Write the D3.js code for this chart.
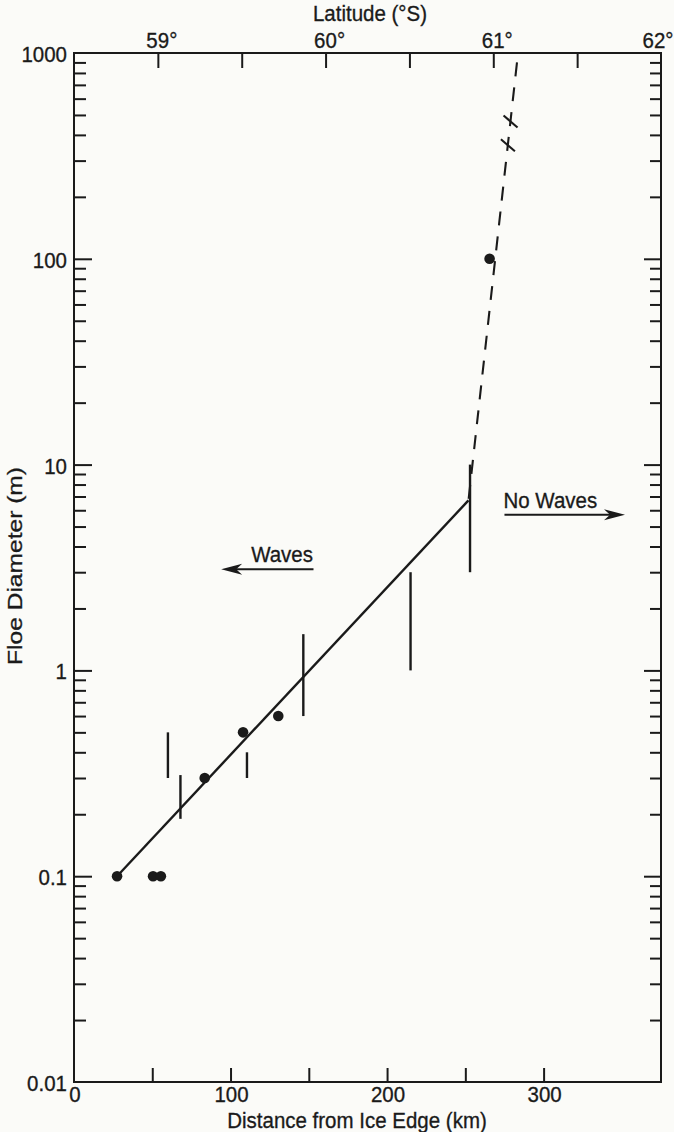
<!DOCTYPE html>
<html>
<head>
<meta charset="utf-8">
<script src="https://cdn.jsdelivr.net/npm/d3@7"></script>
<style>
  html, body { margin: 0; padding: 0; background: #fbfbf8; }
  svg { display: block; }
  text { font-family: "Liberation Sans", Arial, Helvetica, sans-serif; fill: #1a1a1a; stroke: #1a1a1a; stroke-width: 0.3px; }
</style>
</head>
<body>
<svg id="chart" width="674" height="1132"></svg>
<script>
// Single-floe observations (distance in km, diameter in m)
const dotDistance = [27.5, 50.5, 55.5, 83.5, 108, 130.5, 265.5];
const dotDiameter = [0.1, 0.1, 0.1, 0.3, 0.5, 0.6, 100];

// Observed diameter ranges
const rangeDistance = [60, 68, 110.5, 146.5, 215, 253];
const rangeLow = [0.3, 0.19, 0.3, 0.6, 1, 3];
const rangeHigh = [0.5, 0.31, 0.4, 1.5, 3, 10];

// Fitted trend inside the wave zone, and its extrapolation beyond it
const fitDistance = [27.5, 252];
const fitDiameter = [0.1, 6.7];
const extrapDistance = [252, 283];
const extrapDiameter = [6.7, 900];
const breakDiameter = [470, 360];

// Axes
const distanceTicks = [0, 50, 100, 150, 200, 250, 300];
const distanceLabels = [0, 100, 200, 300];
const latitudeTicks = [59, 59.5, 60, 60.5, 61, 61.5];
const latitudeLabels = [59, 60, 61, 62];
const diameterLabels = [0.01, 0.1, 1, 10, 100, 1000];

// Annotation arrows: [from km, to km, at diameter]
const wavesArrow = [153, 94, 3.1];
const noWavesArrow = [275, 352, 5.7];

const W = 674;
const L = 74, R = 661, T = 53, B = 1082;
const ink = "#1a1a1a";
const fontSize = 20.5;

const x = d3.scaleLinear().domain([0, 375]).range([L, R]);
const lat = d3.scaleLinear().domain([58.5, 62]).range([L, R]);
const y = d3.scaleLog().domain([0.01, 1000]).range([B, T]);

const svg = d3.select("#chart");

// Lettering is drawn slightly tall
function label(txt, px, py, anchor, rotate, stretch = 1.12) {
  svg.append("text")
    .attr("transform", `translate(${px},${py}) scale(1,${stretch})` + (rotate ? ` rotate(${rotate})` : ""))
    .attr("text-anchor", anchor)
    .attr("dominant-baseline", "central")
    .attr("font-size", fontSize)
    .text(txt);
}

// Frame
svg.append("rect")
  .attr("x", L).attr("y", T).attr("width", R - L).attr("height", B - T)
  .attr("fill", "none").attr("stroke", ink).attr("stroke-width", 2);

function styleAxis(g) {
  g.select(".domain").remove();
  g.selectAll(".tick line").attr("stroke", ink).attr("stroke-width", 2);
  g.selectAll(".tick text").remove();
}

// Bottom distance axis
svg.append("g").attr("transform", `translate(0,${B})`)
  .call(d3.axisBottom(x).tickValues(distanceTicks.slice(1)).tickSize(-14))
  .call(styleAxis);

// Top latitude axis
svg.append("g").attr("transform", `translate(0,${T})`)
  .call(d3.axisTop(lat).tickValues(latitudeTicks).tickSize(-15))
  .call(styleAxis);

// Log diameter axes, left and right
const allY = y.ticks();
const isMajor = v => Math.abs(Math.log10(v) - Math.round(Math.log10(v))) < 1e-9;
const minorY = allY.filter(v => !isMajor(v));
const majorY = allY.filter(v => isMajor(v) && v > 0.01 && v < 1000);

svg.append("g").attr("transform", `translate(${L},0)`)
  .call(d3.axisLeft(y).tickValues(minorY).tickSize(-12)).call(styleAxis);
svg.append("g").attr("transform", `translate(${L},0)`)
  .call(d3.axisLeft(y).tickValues(majorY).tickSize(-18)).call(styleAxis);
svg.append("g").attr("transform", `translate(${R},0)`)
  .call(d3.axisRight(y).tickValues(minorY).tickSize(-11)).call(styleAxis);
svg.append("g").attr("transform", `translate(${R},0)`)
  .call(d3.axisRight(y).tickValues(majorY).tickSize(-17)).call(styleAxis);

// Tick labels
diameterLabels.forEach(v => label(String(v), L - 7, y(v) + 1, "end"));
distanceLabels.forEach(v => label(String(v), x(v) + 1, B + 12, "middle"));
latitudeLabels.forEach(v => label(v + "°", Math.min(lat(v) + 4, W - 16), T - 13, "middle"));

// Axis titles
label("Latitude (°S)", 370, 13, "middle");
label("Distance from Ice Edge (km)", 357, 1120, "middle");
label("Floe Diameter (m)", 15, 566, "middle", -90, 1.2);

// Fitted line
const line = d3.line().x(d => x(d[0])).y(d => y(d[1]));
svg.append("path")
  .datum(d3.zip(fitDistance, fitDiameter))
  .attr("d", line)
  .attr("fill", "none").attr("stroke", ink).attr("stroke-width", 2.4);

// Extrapolation, dashed, drawn from the top down
const extrap = d3.zip(extrapDistance, extrapDiameter).reverse();
svg.append("path")
  .datum(extrap)
  .attr("d", line)
  .attr("fill", "none").attr("stroke", ink).attr("stroke-width", 2.1)
  .attr("stroke-dasharray", "14,11");

// Break marks across the extrapolated line
const logLine = d3.scaleLog().domain(extrapDiameter).range(extrapDistance);
breakDiameter.forEach(v => {
  const cx = x(logLine(v)), cy = y(v);
  svg.append("line")
    .attr("x1", cx - 7).attr("y1", cy - 5)
    .attr("x2", cx + 7).attr("y2", cy + 7)
    .attr("stroke", ink).attr("stroke-width", 2.1);
});

// Range bars
svg.append("g").selectAll("line")
  .data(d3.range(rangeDistance.length))
  .join("line")
  .attr("x1", i => x(rangeDistance[i])).attr("x2", i => x(rangeDistance[i]))
  .attr("y1", i => y(rangeLow[i])).attr("y2", i => y(rangeHigh[i]))
  .attr("stroke", ink).attr("stroke-width", 2.4);

// Single observations
svg.append("g").selectAll("circle")
  .data(d3.zip(dotDistance, dotDiameter))
  .join("circle")
  .attr("cx", d => x(d[0])).attr("cy", d => y(d[1]))
  .attr("r", 5.3).attr("fill", ink);

// Arrows
function arrow(spec) {
  const x0 = x(spec[0]), x1 = x(spec[1]), yy = y(spec[2]);
  const dir = Math.sign(x1 - x0);
  svg.append("line")
    .attr("x1", x0).attr("x2", x1 - dir * 10).attr("y1", yy).attr("y2", yy)
    .attr("stroke", ink).attr("stroke-width", 2);
  svg.append("path")
    .attr("d", `M${x1},${yy} L${x1 - dir * 21},${yy - 5.5} L${x1 - dir * 15},${yy} L${x1 - dir * 21},${yy + 5.5} Z`)
    .attr("fill", ink);
}
arrow(wavesArrow);
arrow(noWavesArrow);
label("Waves", x(wavesArrow[1]) + 30, y(wavesArrow[2]) - 15, "start");
label("No Waves", x(noWavesArrow[0]) - 1, y(noWavesArrow[2]) - 15, "start");
</script>
</body>
</html>
